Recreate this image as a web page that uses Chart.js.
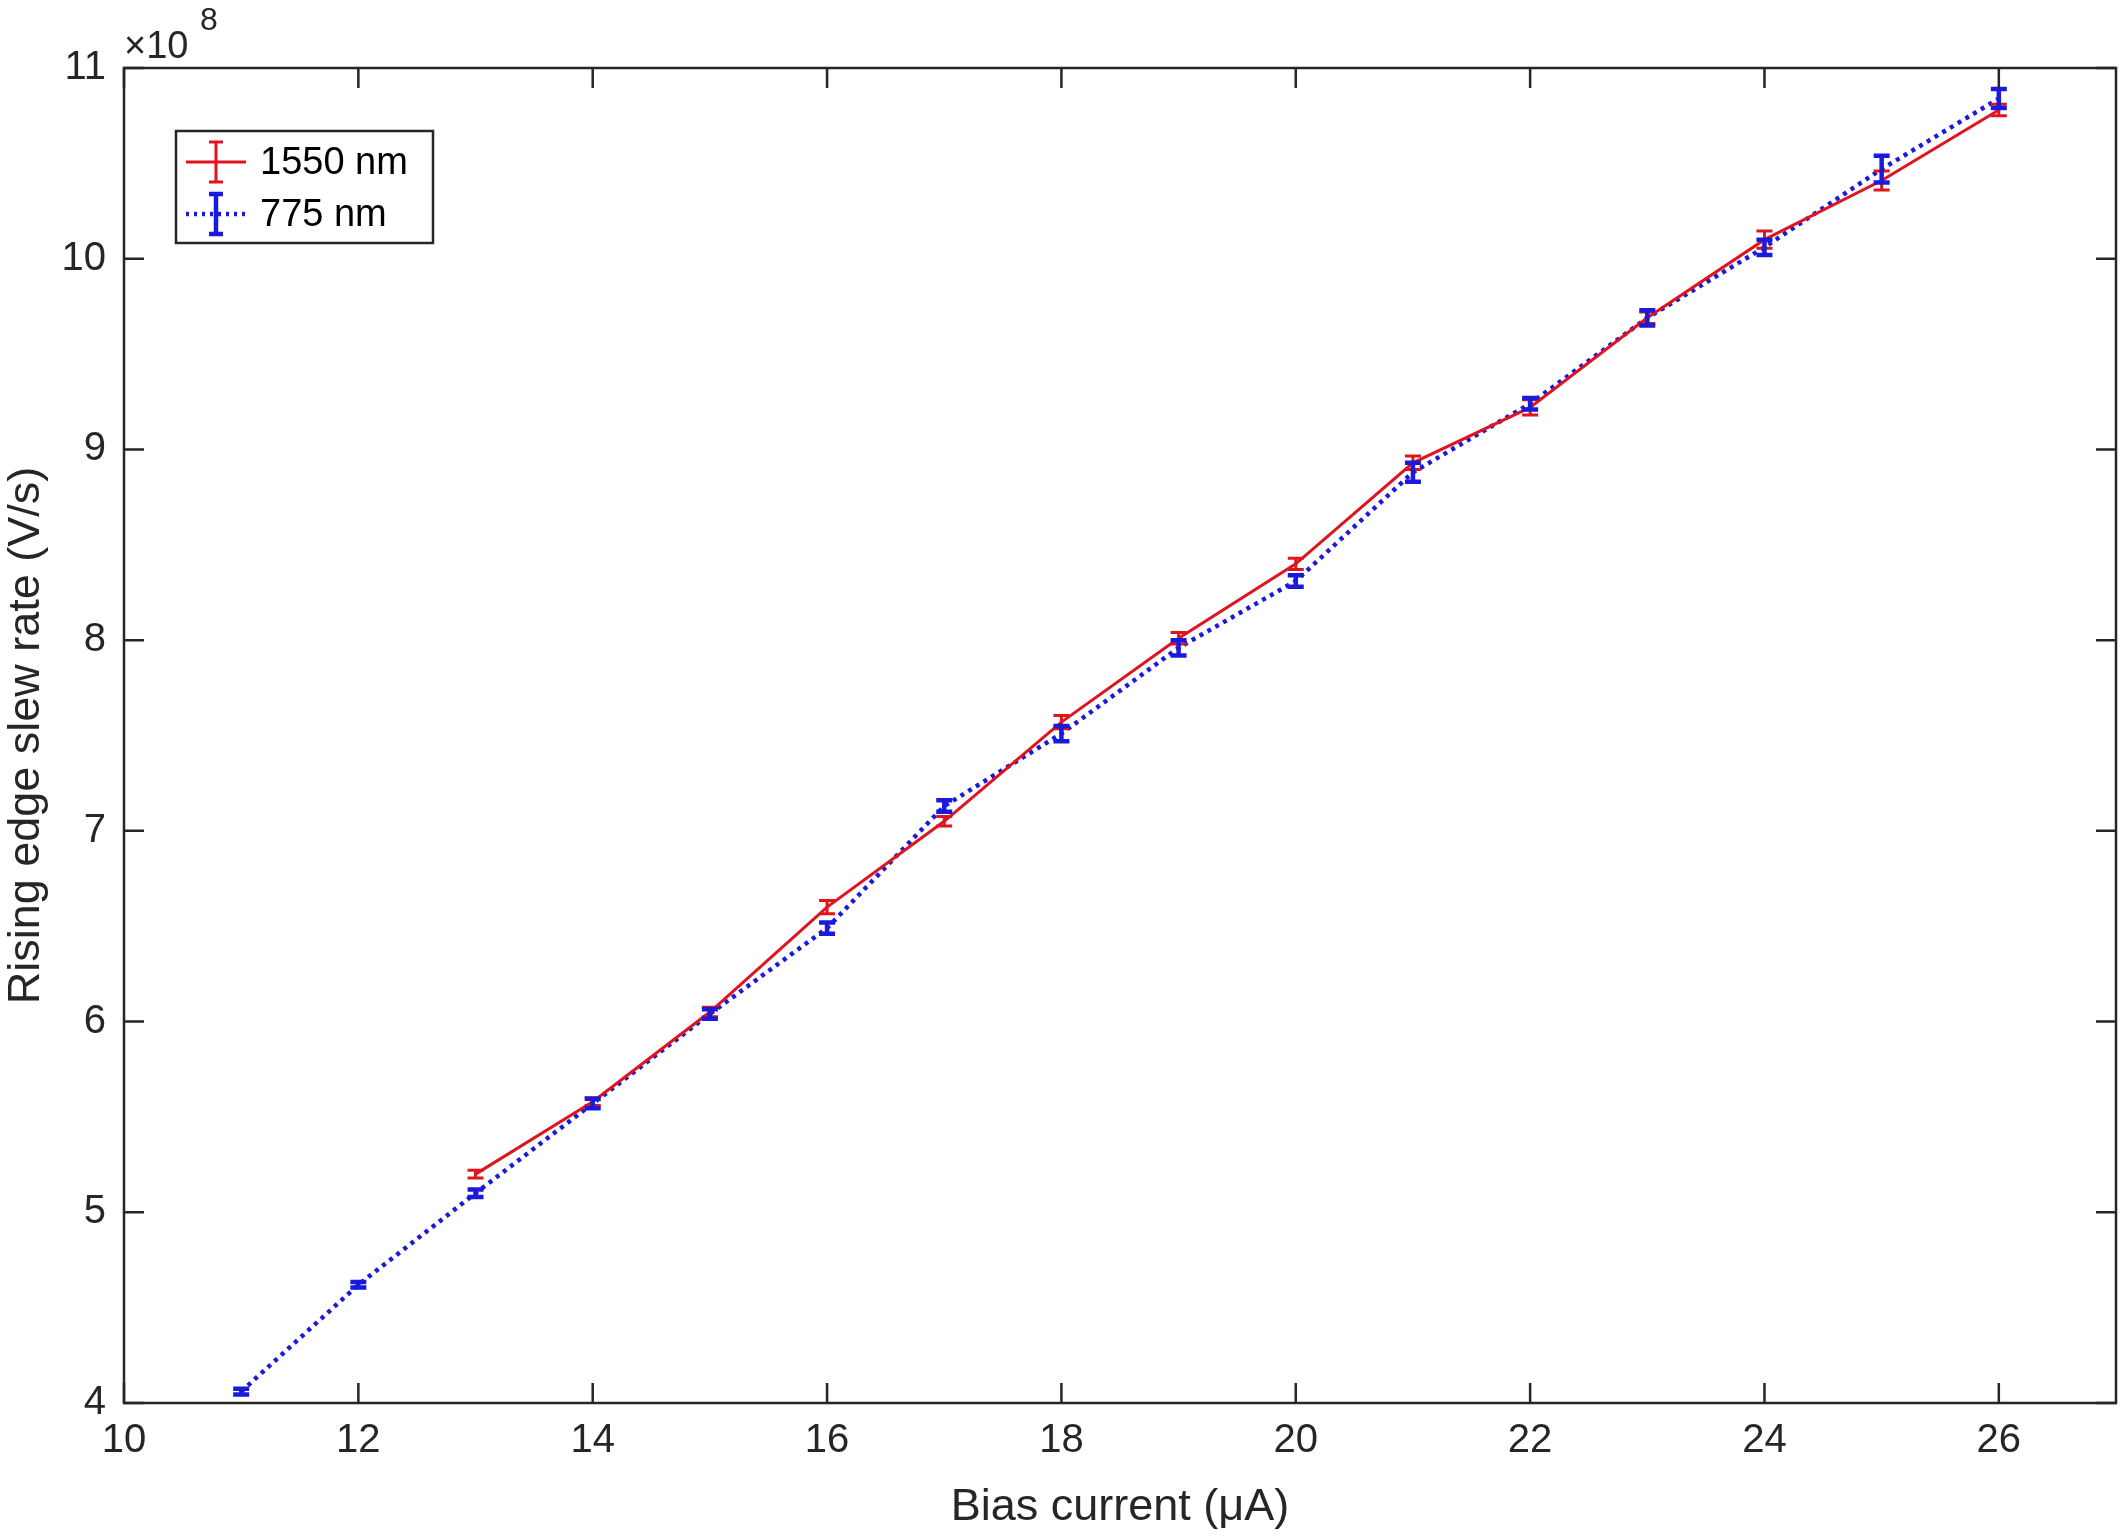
<!DOCTYPE html>
<html><head><meta charset="utf-8">
<script src="https://cdn.jsdelivr.net/npm/chart.js@4"></script>
<style>html,body{margin:0;padding:0;background:#fff}#c{display:block}</style>
</head><body>
<canvas id="c" width="2120" height="1539"></canvas>
<script>
const xs1550=[13,14,15,16,17,18,19,20,21,22,23,24,25,26];
const y1550=[5.20,5.58,6.05,6.60,7.05,7.57,8.01,8.40,8.93,9.22,9.69,10.10,10.41,10.78];
const e1550=[0.02,0.02,0.025,0.035,0.025,0.035,0.03,0.03,0.035,0.04,0.03,0.045,0.05,0.03];
const xs775=[11,12,13,14,15,16,17,18,19,20,21,22,23,24,25,26];
const y775=[4.06,4.62,5.10,5.57,6.04,6.49,7.13,7.51,7.96,8.31,8.88,9.24,9.69,10.06,10.47,10.84];
const e775=[0.015,0.015,0.02,0.025,0.025,0.03,0.03,0.04,0.04,0.03,0.05,0.03,0.04,0.04,0.07,0.05];
const xTicks=[10,12,14,16,18,20,22,24,26];
const yTicks=[4,5,6,7,8,9,10,11];
const FONT='"Liberation Sans", Arial, sans-serif';
const pts=(x,y)=>x.map((v,i)=>({x:v,y:y[i]}));
const errPlugin={id:'err',afterDatasetsDraw(ch){
  const c=ch.ctx,xS=ch.scales.x,yS=ch.scales.y;
  [[xs1550,y1550,e1550,'#e0141e',3,8],[xs775,y775,e775,'#1a1adc',4.5,8]].forEach(([X,Y,E,col,w,cap])=>{
    c.save();c.strokeStyle=col;c.lineWidth=w;
    X.forEach((x,i)=>{const px=xS.getPixelForValue(x),t=yS.getPixelForValue(Y[i]+E[i]),b=yS.getPixelForValue(Y[i]-E[i]);
      c.beginPath();c.moveTo(px,t);c.lineTo(px,b);c.moveTo(px-cap,t);c.lineTo(px+cap,t);c.moveTo(px-cap,b);c.lineTo(px+cap,b);c.stroke();});
    c.restore();});
}};
const framePlugin={id:'frame',afterDraw(ch){
  const c=ch.ctx,a=ch.chartArea,xS=ch.scales.x,yS=ch.scales.y;
  c.save();c.strokeStyle='#262626';c.lineWidth=2.5;
  c.strokeRect(a.left,a.top,a.right-a.left,a.bottom-a.top);
  c.beginPath();
  xTicks.forEach(v=>{const p=xS.getPixelForValue(v);c.moveTo(p,a.bottom);c.lineTo(p,a.bottom-20);c.moveTo(p,a.top);c.lineTo(p,a.top+20);});
  yTicks.forEach(v=>{const p=yS.getPixelForValue(v);c.moveTo(a.left,p);c.lineTo(a.left+20,p);c.moveTo(a.right,p);c.lineTo(a.right-20,p);});
  c.stroke();
  c.fillStyle='#262626';c.font='38px '+FONT;c.textBaseline='alphabetic';c.textAlign='left';
  c.fillText('\u00d710',124,58);c.font='32px '+FONT;c.fillText('8',200,30);
  const L=176,T=131,W=257,H=112;
  c.fillStyle='#fff';c.fillRect(L,T,W,H);c.strokeRect(L,T,W,H);
  c.font='38px '+FONT;c.fillStyle='#000';c.textBaseline='middle';
  const rows=[['1550 nm','#e0141e',[],3],['775 nm','#1a1adc',[3,5],4.5]];
  const ys=[162,214];
  rows.forEach((r,i)=>{const y=ys[i];c.strokeStyle=r[1];c.lineWidth=r[3];c.setLineDash(r[2]);
    c.beginPath();c.moveTo(L+10,y);c.lineTo(L+70,y);c.stroke();c.setLineDash([]);
    c.beginPath();c.moveTo(L+40,y-20);c.lineTo(L+40,y+20);c.moveTo(L+33,y-20);c.lineTo(L+47,y-20);c.moveTo(L+33,y+20);c.lineTo(L+47,y+20);c.stroke();
    c.fillText(r[0],L+84,y+2);});
  c.restore();
}};
new Chart(document.getElementById('c'),{
  type:'scatter',
  data:{datasets:[
    {label:'1550 nm',data:pts(xs1550,y1550),showLine:true,borderColor:'#e0141e',borderWidth:3,pointRadius:0,tension:0},
    {label:'775 nm',data:pts(xs775,y775),showLine:true,borderColor:'#1a1adc',borderWidth:4.5,borderDash:[4,5],pointRadius:0,tension:0}
  ]},
  options:{responsive:false,animation:false,
    layout:{padding:{top:68,right:4,left:0,bottom:0}},
    plugins:{legend:{display:false},tooltip:{enabled:false}},
    scales:{
      x:{type:'linear',min:10,max:27,grid:{display:false},border:{display:false},
        afterBuildTicks:s=>{s.ticks=xTicks.map(v=>({value:v}));},
        afterFit:s=>{s.height=136;},
        ticks:{color:'#262626',font:{size:40,family:FONT},maxRotation:0,padding:6},
        title:{display:true,text:'Bias current (\u03bcA)',color:'#262626',font:{size:45,family:FONT},padding:{top:-4}}},
      y:{min:4,max:11,grid:{display:false},border:{display:false},
        afterBuildTicks:s=>{s.ticks=yTicks.map(v=>({value:v}));},
        afterFit:s=>{s.width=124;},
        ticks:{color:'#262626',font:{size:40,family:FONT},padding:10},
        title:{display:true,text:'Rising edge slew rate (V/s)',color:'#262626',font:{size:45,family:FONT},padding:{bottom:0,top:0}}}
    }},
  plugins:[errPlugin,framePlugin]
});
</script></body></html>
